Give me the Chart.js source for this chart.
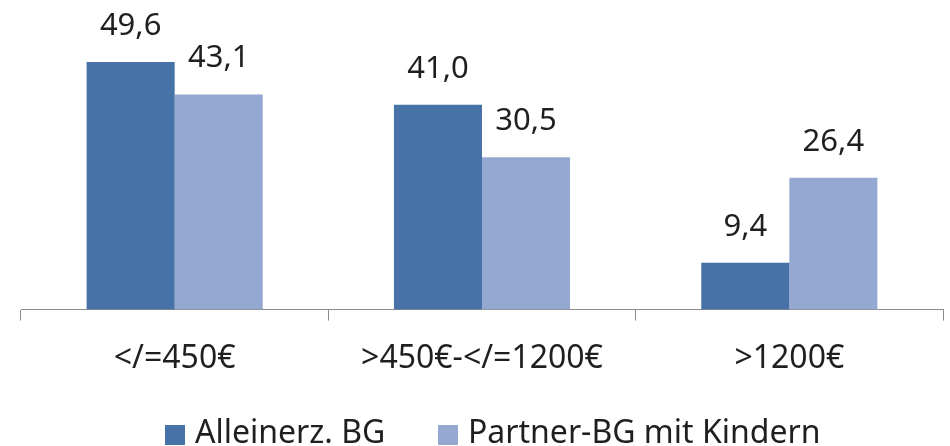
<!DOCTYPE html>
<html>
<head>
<meta charset="utf-8">
<script src="https://cdn.jsdelivr.net/npm/chart.js@4"></script>
<style>
  html, body { margin: 0; padding: 0; background: #fff; overflow: hidden; }
  #wrap { position: relative; width: 950px; height: 446px; }
  #legend { position: absolute; left: 165px; top: 415px; font: 32px "Noto Sans"; color: #1f1f1f; line-height: 32px; white-space: nowrap; }
  #legend .item { position: absolute; top: 0; }
  #legend .box { position: absolute; top: 10px; width: 20px; height: 20px; }
  #legend .txt { position: absolute; top: 0; left: 30px; }
</style>
</head>
<body>
<div id="wrap">
  <canvas id="chart" width="950" height="446"></canvas>
  <div id="legend"></div>
</div>
<script>
const categories = ['</=450€', '>450€-</=1200€', '>1200€'];
const seriesNames = ['Alleinerz. BG', 'Partner-BG mit Kindern'];
const alleinerz = [49.6, 41.0, 9.4];
const partner = [43.1, 30.5, 26.4];
const colors = ['#4672a8', '#95a8d1'];

const valueLabels = {
    id: 'valueLabels',
    afterDatasetsDraw(chart) {
        const ctx = chart.ctx;
        ctx.save();
        ctx.font = '31px "Noto Sans"';
        ctx.fillStyle = '#1f1f1f';
        ctx.textAlign = 'center';
        ctx.textBaseline = 'alphabetic';
        chart.data.datasets.forEach((ds, i) => {
            chart.getDatasetMeta(i).data.forEach((bar, j) => {
                ctx.fillText(ds.data[j].toFixed(1).replace('.', ','), bar.x, bar.y - 27);
            });
        });
        ctx.restore();
    }
};

new Chart(document.querySelector('#chart').getContext('2d'), {
    type: 'bar',
    data: {
        labels: categories,
        datasets: [
            { label: seriesNames[0], data: alleinerz, backgroundColor: colors[0] },
            { label: seriesNames[1], data: partner, backgroundColor: colors[1] }
        ]
    },
    options: {
        responsive: false,
        animation: false,
        layout: { padding: { left: 21, right: 7, top: 10, bottom: 49 } },
        datasets: { bar: { barPercentage: 1, categoryPercentage: 0.573 } },
        plugins: { legend: { display: false }, tooltip: { enabled: false } },
        scales: {
            y: { display: false, min: 0, max: 60 },
            x: {
                grid: { drawOnChartArea: false, tickLength: 11, color: '#8c8c8c', offset: true },
                border: { color: '#8c8c8c', width: 1 },
                ticks: { color: '#1f1f1f', font: { family: 'Noto Sans', size: 32 }, padding: 19, maxRotation: 0 }
            }
        }
    },
    plugins: [valueLabels]
});

const legend = document.querySelector('#legend');
const offsets = [0, 273];
seriesNames.forEach((name, i) => {
    const item = document.createElement('div');
    item.className = 'item';
    item.style.left = offsets[i] + 'px';
    item.innerHTML = '<span class="box" style="background:' + colors[i] + '"></span><span class="txt"></span>';
    item.querySelector('.txt').textContent = name;
    legend.appendChild(item);
});
</script>
</body>
</html>
